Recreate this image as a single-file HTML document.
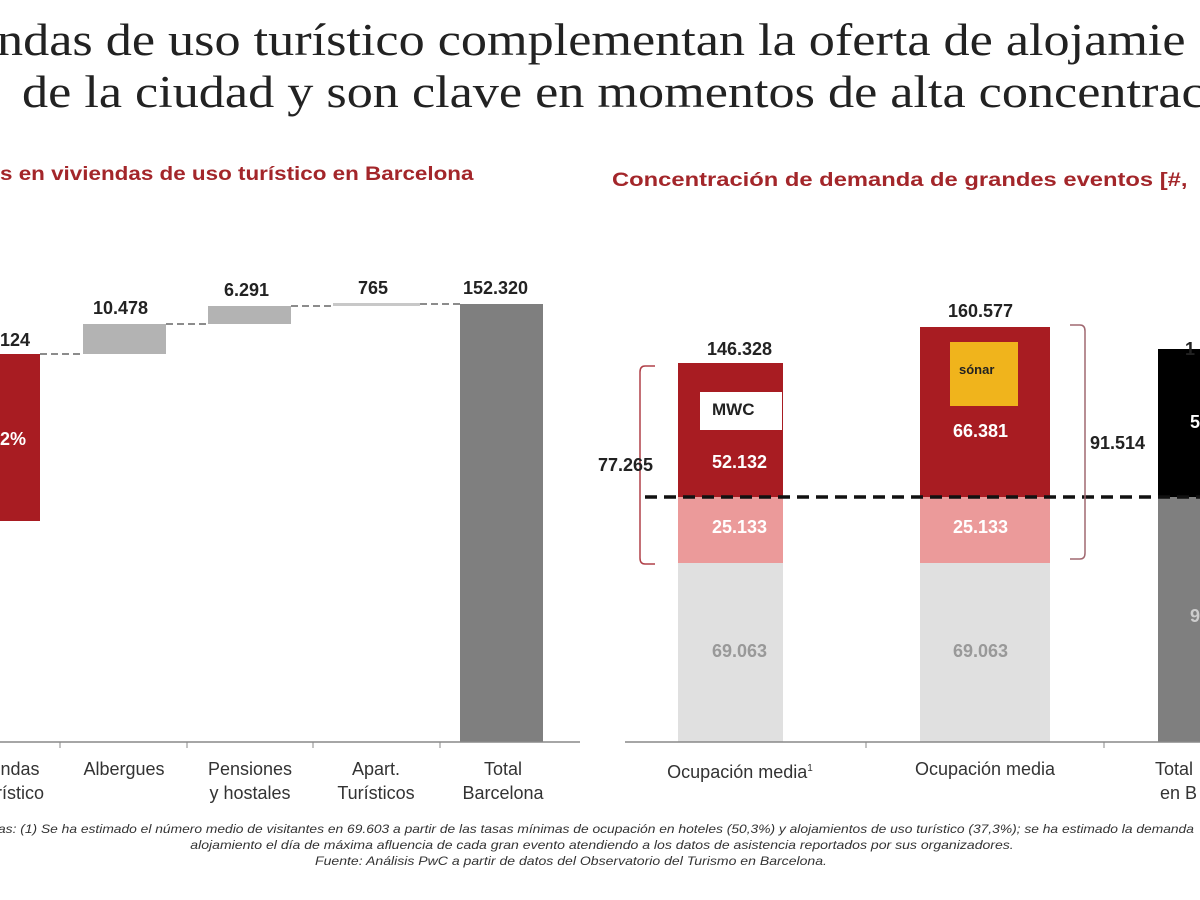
<!DOCTYPE html>
<html><head><meta charset="utf-8"><style>
body{margin:0;width:1200px;height:900px;overflow:hidden;background:#fff;position:relative;font-family:"Liberation Sans",sans-serif}
.a{position:absolute;white-space:nowrap}
.t{font-family:"Liberation Serif",serif;font-size:45px;color:#222;transform-origin:0 0;transform:scaleX(1.16)}
.s{font-weight:bold;color:#a3262a;font-size:19px;transform-origin:0 0}
.n{font-weight:bold;font-size:18px;color:#222}
.c{font-size:18px;color:#333;text-align:center;line-height:24px}
.f{font-style:italic;font-size:12px;color:#333}
</style></head><body>
<div style="position:absolute;left:0;top:0;width:1200px;height:900px;overflow:hidden">
<div class="a t" style="left:-3px;top:14px">ndas de uso turístico complementan la oferta de alojamie</div>
<div class="a t" style="left:22px;top:66px">de la ciudad y son clave en momentos de alta concentrac</div>
<div class="a s" style="left:0;top:164px;transform:scaleX(1.18)">s en viviendas de uso turístico en Barcelona</div>
<div class="a s" style="left:612px;top:170px;transform:scaleX(1.25)">Concentración de demanda de grandes eventos [#,</div>
<svg class="a" style="left:0;top:0" width="1200" height="900">
<g stroke="#666" stroke-width="1.5" stroke-dasharray="7,4">
<line x1="40" y1="354" x2="83" y2="354"/><line x1="166" y1="324" x2="208" y2="324"/>
<line x1="291" y1="306" x2="333" y2="306"/><line x1="420" y1="304" x2="460" y2="304"/></g>
<rect x="0" y="354" width="40" height="167" fill="#a81c22"/>
<rect x="83" y="324" width="83" height="30" fill="#b3b3b3"/>
<rect x="208" y="306" width="83" height="18" fill="#b3b3b3"/>
<rect x="333" y="303" width="87" height="3" fill="#c8c8c8"/>
<rect x="460" y="304" width="83" height="438" fill="#7f7f7f"/>
<line x1="0" y1="742" x2="580" y2="742" stroke="#888" stroke-width="1.5"/>
<g stroke="#888"><line x1="60" y1="742" x2="60" y2="748"/><line x1="187" y1="742" x2="187" y2="748"/><line x1="313" y1="742" x2="313" y2="748"/><line x1="440" y1="742" x2="440" y2="748"/></g>
<rect x="678" y="363" width="105" height="134" fill="#a81c22"/>
<rect x="678" y="497" width="105" height="66" fill="#eb9a9a"/>
<rect x="678" y="563" width="105" height="179" fill="#e0e0e0"/>
<rect x="700" y="392" width="82" height="38" fill="#fff"/>
<rect x="920" y="327" width="130" height="170" fill="#a81c22"/>
<rect x="920" y="497" width="130" height="66" fill="#eb9a9a"/>
<rect x="920" y="563" width="130" height="179" fill="#e0e0e0"/>
<rect x="950" y="342" width="68" height="64" fill="#f0b41c"/>
<rect x="1158" y="349" width="42" height="148" fill="#000"/>
<rect x="1158" y="497" width="42" height="245" fill="#7f7f7f"/>
<line x1="645" y1="497" x2="1200" y2="497" stroke="#111" stroke-width="3.5" stroke-dasharray="12,7"/>
<line x1="625" y1="742" x2="1200" y2="742" stroke="#888" stroke-width="1.5"/>
<g stroke="#888"><line x1="866" y1="742" x2="866" y2="748"/><line x1="1104" y1="742" x2="1104" y2="748"/></g>
<path d="M655 366 H645 Q640 366 640 372 V558 Q640 564 645 564 H655" fill="none" stroke="#b04048" stroke-width="1.5"/>
<path d="M1070 325 H1080 Q1085 325 1085 331 V553 Q1085 559 1080 559 H1070" fill="none" stroke="#a06870" stroke-width="1.5"/>
</svg>
<div class="a n" style="left:0;top:330px">124</div>
<div class="a n" style="left:0;top:429px;color:#fff">2%</div>
<div class="a n" style="left:93px;top:298px">10.478</div>
<div class="a n" style="left:224px;top:280px">6.291</div>
<div class="a n" style="left:358px;top:278px">765</div>
<div class="a n" style="left:463px;top:278px">152.320</div>
<div class="a c" style="left:-40px;top:757px;width:120px">ndas<br>rístico</div>
<div class="a c" style="left:64px;top:757px;width:120px">Albergues</div>
<div class="a c" style="left:190px;top:757px;width:120px">Pensiones<br>y hostales</div>
<div class="a c" style="left:316px;top:757px;width:120px">Apart.<br>Turísticos</div>
<div class="a c" style="left:443px;top:757px;width:120px">Total<br>Barcelona</div>
<div class="a n" style="left:707px;top:339px">146.328</div>
<div class="a" style="left:712px;top:400px;font-weight:bold;font-size:17px;color:#222">MWC</div>
<div class="a n" style="left:712px;top:452px;color:#fff">52.132</div>
<div class="a n" style="left:712px;top:517px;color:#fff">25.133</div>
<div class="a n" style="left:712px;top:641px;color:#999">69.063</div>
<div class="a n" style="left:948px;top:301px">160.577</div>
<div class="a" style="left:959px;top:362px;font-weight:bold;font-size:13px;color:#222">sónar</div>
<div class="a n" style="left:953px;top:421px;color:#fff">66.381</div>
<div class="a n" style="left:953px;top:517px;color:#fff">25.133</div>
<div class="a n" style="left:953px;top:641px;color:#999">69.063</div>
<div class="a n" style="left:1185px;top:339px">1</div>
<div class="a n" style="left:1190px;top:412px;color:#fff">5</div>
<div class="a n" style="left:1190px;top:606px;color:#ccc">9</div>
<div class="a n" style="left:598px;top:455px">77.265</div>
<div class="a n" style="left:1090px;top:433px">91.514</div>
<div class="a c" style="left:660px;top:757px;width:160px">Ocupación media<sup style="font-size:10px">1</sup></div>
<div class="a c" style="left:905px;top:757px;width:160px">Ocupación media</div>
<div class="a c" style="left:1155px;top:757px;text-align:left">Total<br>&nbsp;en B</div>
<div class="a f" style="left:-2px;top:822px;transform-origin:0 0;transform:scaleX(1.15)">as: (1) Se ha estimado el número medio de visitantes en 69.603 a partir de las tasas mínimas de ocupación en hoteles (50,3%) y alojamientos de uso turístico (37,3%); se ha estimado la demanda</div>
<div class="a f" style="left:0;width:1200px;text-align:center;top:838px;transform:translateX(2px) scaleX(1.17)">alojamiento el día de máxima afluencia de cada gran evento atendiendo a los datos de asistencia reportados por sus organizadores.</div>
<div class="a f" style="left:0;width:1200px;text-align:center;top:854px;transform:translateX(-29px) scaleX(1.17)">Fuente: Análisis PwC a partir de datos del Observatorio del Turismo en Barcelona.</div>
</div>
</body></html>
